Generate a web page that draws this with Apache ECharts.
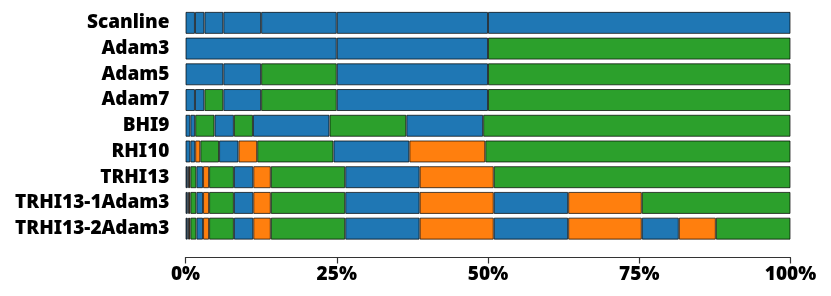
<!DOCTYPE html>
<html><head><meta charset="utf-8">
<script src="https://cdn.jsdelivr.net/npm/echarts@6/dist/echarts.min.js"></script>
<style>html,body{margin:0;padding:0;background:#fff}#c{width:831px;height:296px}</style>
</head><body><div id="c"></div>
<script>
// Row labels (top to bottom)
const categories = ['Scanline','Adam3','Adam5','Adam7','BHI9','RHI10','TRHI13','TRHI13-1Adam3','TRHI13-2Adam3'];
// Segment widths (% of bar) and segment kinds (B=blue, G=green, O=orange) per row
const scanlineVals = [1.5625,1.5625,3.125,6.25,12.5,25,50];
const scanlineKinds = 'BBBBBBB';
const adam3Vals = [25,25,50];
const adam3Kinds = 'BBG';
const adam5Vals = [6.25,6.25,12.5,25,50];
const adam5Kinds = 'BBGBG';
const adam7Vals = [1.5625,1.5625,3.125,6.25,12.5,25,50];
const adam7Kinds = 'BBGBGBG';
const bhi9Vals = [0.8,0.8,3.2,3.2,3.15,12.65,12.7,12.7,50.8];
const bhi9Kinds = 'BBGBGBGBG';
const rhi10Vals = [0.8,0.8,0.85,3.1,3.2,3.1,12.6,12.55,12.55,50.45];
const rhi10Kinds = 'BBOGBOGBOG';
const trhi13Vals = [0.3,0.25,0.25,1.0,1.1,1.0,4.1,3.2,2.9,12.3,12.3,12.25,49.05];
const trhi13Kinds = 'BBOGBOGBOGBOG';
const trhi13a1Vals = [0.3,0.25,0.25,1.0,1.1,1.0,4.1,3.2,2.9,12.3,12.3,12.25,12.3,12.17,24.58];
const trhi13a1Kinds = 'BBOGBOGBOGBOBOG';
const trhi13a2Vals = [0.3,0.25,0.25,1.0,1.1,1.0,4.1,3.2,2.9,12.3,12.3,12.25,12.3,12.17,6.12,6.12,12.34];
const trhi13a2Kinds = 'BBOGBOGBOGBOBOBOG';
// X tick values
const xTicks = [0,25,50,75,100];

const rowVals = [scanlineVals,adam3Vals,adam5Vals,adam7Vals,bhi9Vals,rhi10Vals,trhi13Vals,trhi13a1Vals,trhi13a2Vals];
const rowKinds = [scanlineKinds,adam3Kinds,adam5Kinds,adam7Kinds,bhi9Kinds,rhi10Kinds,trhi13Kinds,trhi13a1Kinds,trhi13a2Kinds];
const kindColor = {B:'#1f77b4', G:'#2ca02c', O:'#ff7f0e'};

const maxSeg = Math.max(...rowVals.map(r=>r.length));
const series = [];
for (let i=0;i<maxSeg;i++){
  series.push({
    type:'bar', stack:'total', barWidth:22,
    silent:true,
    data: rowVals.map((vals,r)=> i<vals.length ? {value:vals[i], itemStyle:{color:kindColor[rowKinds[r][i]]}} : '-'),
    itemStyle:{borderColor:'rgba(0,0,0,0.7)', borderWidth:1}
  });
}

const chart = echarts.init(document.getElementById('c'), null, {renderer:'canvas'});
chart.setOption({
  animation:false,
  grid:{left:185.5, right:40.5, top:10, bottom:54.5, containLabel:false},
  xAxis:{type:'value', min:xTicks[0], max:xTicks[xTicks.length-1], interval:25, offset:16,
    axisLine:{show:true, lineStyle:{color:'#333', width:1.2}},
    axisTick:{show:true, length:6, lineStyle:{color:'#333', width:1.2}},
    splitLine:{show:false},
    axisLabel:{formatter:'{value}%', color:'#000', fontFamily:'Noto Sans', fontWeight:900, fontSize:19, margin:8}
  },
  yAxis:{type:'category', data:categories, inverse:true,
    axisLine:{show:false}, axisTick:{show:false},
    axisLabel:{color:'#000', fontFamily:'Noto Sans', fontWeight:900, fontSize:19, margin:16}
  },
  series
});
</script></body></html>
